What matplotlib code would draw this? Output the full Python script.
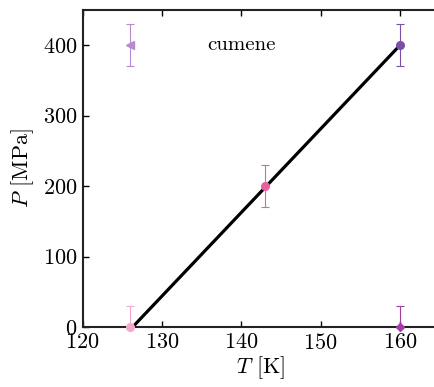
import matplotlib
matplotlib.use('Agg')
import matplotlib.pyplot as plt

# Данные: точки, погрешности, маркеры, цвета
T = [126, 143, 160, 126, 160]
P = [0, 200, 400, 400, 0]
P_err = [30, 30, 30, 30, 30]
markers = ['o', 'o', 'o', '<', 'D']
colors = ['#f5a8cb', '#ea5f9f', '#7b4fa6', '#b88ad0', '#a43ca8']

# линия фазовой границы
line_T = [126.3, 160]
line_P = [0, 400]

plt.rcParams['font.family'] = 'serif'
plt.rcParams['font.serif'] = ['cmr10', 'DejaVu Serif']
plt.rcParams['mathtext.fontset'] = 'cm'
plt.rcParams['axes.formatter.use_mathtext'] = True
plt.rcParams['font.size'] = 16

fig = plt.figure(figsize=(4.35, 3.87), dpi=100)
ax = fig.add_axes([0.190, 0.155, 0.8206, 0.819])

ax.plot(line_T, line_P, color='black', linewidth=2.3, zorder=2)

for t, p, e, m, c in zip(T, P, P_err, markers, colors):
    ms = 4.5 if m == 'D' else 5.5
    # погрешности обрезаются осями, а сами точки нет
    ax.errorbar(t, p, yerr=e, fmt='none', ecolor=c, elinewidth=0.8,
                capsize=2.6, capthick=0.8, zorder=3)
    ax.plot(t, p, m, color=c, markersize=ms, zorder=4, clip_on=False)

ax.text(140, 400, 'cumene', ha='center', va='center', fontsize=15)

ax.set_xlim(120, 165)
ax.set_ylim(0, 450)
ax.set_xticks([120, 130, 140, 150, 160])
ax.set_yticks([0, 100, 200, 300, 400])
ax.tick_params(direction='in', top=True, right=False, length=4, width=1, pad=4)
ax.spines['right'].set_visible(False)
for s in ax.spines.values():
    s.set_linewidth(1.5)
    s.set_color('#222222')

ax.set_xlabel('$T$ [K]', labelpad=1)
ax.set_ylabel('$P$ [MPa]', labelpad=5)

fig.savefig('out.png', dpi=100)
